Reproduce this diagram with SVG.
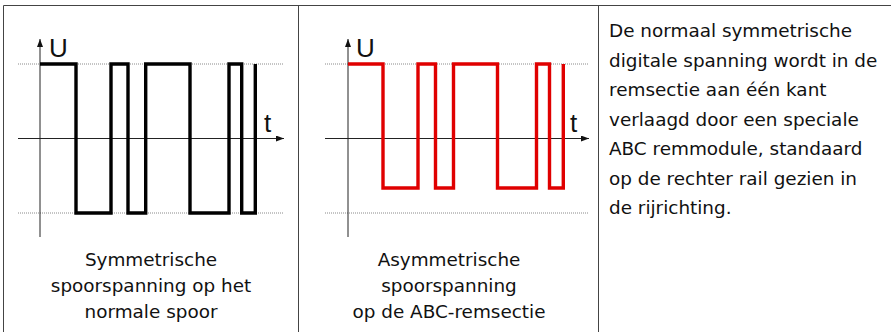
<svg xmlns="http://www.w3.org/2000/svg" width="891" height="332" viewBox="0 0 891 332">
  <style>
    .border { stroke: #444; stroke-width: 1; fill: none; }
    .axis { stroke: #222; stroke-width: 1; fill: none; }
    .ref { stroke: #8a8a8a; stroke-width: 1; stroke-dasharray: 1 1; fill: none; }
    .wave { stroke-width: 3.4; fill: none; stroke-linejoin: miter; stroke-linecap: butt; }
    .lbl { font-family: "Liberation Sans", Arial, sans-serif; font-size: 26px; fill: #111; }
    .txt { font-family: "DejaVu Sans", Verdana, sans-serif; font-size: 18.4px; fill: #111; }
    .cap { text-anchor: middle; }
  </style>
  <defs>
    <marker id="arr" viewBox="0 0 8 6" refX="8" refY="3" markerWidth="8" markerHeight="6" markerUnits="userSpaceOnUse" orient="auto">
      <path d="M0,0 L8,3 L0,6 Z" fill="#111"/>
    </marker>
  </defs>
  <rect width="891" height="332" fill="#fff"/>

  <g id="table">
    <line class="border" x1="3.5" y1="5.5" x2="891" y2="5.5"/>
    <line class="border" x1="3.5" y1="5.5" x2="3.5" y2="332"/>
    <line class="border" x1="298.5" y1="5.5" x2="298.5" y2="332"/>
    <line class="border" x1="598.5" y1="5.5" x2="598.5" y2="332"/>
  </g>

  <g id="chart-symmetric">
    <line class="ref" x1="18" y1="64" x2="283" y2="64"/>
    <line class="ref" x1="18" y1="213" x2="283" y2="213"/>
    <line class="axis" x1="40" y1="237" x2="40" y2="39" marker-end="url(#arr)"/>
    <line class="axis" x1="18" y1="138.5" x2="284" y2="138.5" marker-end="url(#arr)"/>
    <path class="wave" stroke="#000" d="M40,64 H76 V213 H111 V64 H128 V213 H145.7 V64 H190 V213 H229 V64 H241.7 V213 H255.3 V64"/>
    <text class="lbl" x="49" y="57">U</text>
    <text class="lbl" x="264" y="132">t</text>
    <text class="txt cap" x="151" y="266">Symmetrische</text>
    <text class="txt cap" x="151" y="292">spoorspanning op het</text>
    <text class="txt cap" x="151" y="318">normale spoor</text>
  </g>

  <g id="chart-asymmetric">
    <line class="ref" x1="325" y1="64" x2="589" y2="64"/>
    <line class="ref" x1="325" y1="213" x2="589" y2="213"/>
    <line class="axis" x1="348" y1="237" x2="348" y2="39" marker-end="url(#arr)"/>
    <line class="axis" x1="325" y1="138.5" x2="589" y2="138.5" marker-end="url(#arr)"/>
    <path class="wave" stroke="#e00000" d="M348,64 H383 V188 H418 V64 H435.5 V188 H453.5 V64 H497.5 V188 H536.5 V64 H549.5 V188 H563.3 V64"/>
    <text class="lbl" x="356" y="57">U</text>
    <text class="lbl" x="570" y="132">t</text>
    <text class="txt cap" x="449" y="266">Asymmetrische</text>
    <text class="txt cap" x="449" y="292">spoorspanning</text>
    <text class="txt cap" x="449" y="318">op de ABC-remsectie</text>
  </g>

  <g id="description">
    <text class="txt" x="609" y="37">De normaal symmetrische</text>
    <text class="txt" x="609" y="66.5">digitale spanning wordt in de</text>
    <text class="txt" x="609" y="96">remsectie aan één kant</text>
    <text class="txt" x="609" y="125.5">verlaagd door een speciale</text>
    <text class="txt" x="609" y="155">ABC remmodule, standaard</text>
    <text class="txt" x="609" y="184.5">op de rechter rail gezien in</text>
    <text class="txt" x="609" y="214">de rijrichting.</text>
  </g>
</svg>
